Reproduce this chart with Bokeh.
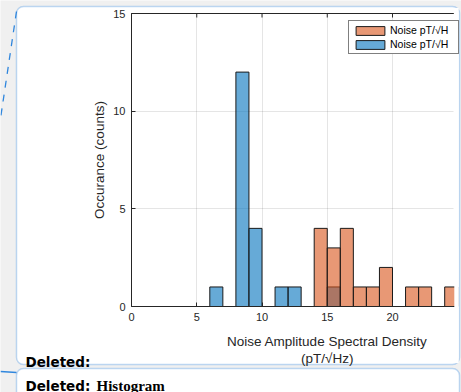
from bokeh.plotting import figure
from bokeh.models import (FixedTicker, Legend, LegendItem, Label,
                          BoxAnnotation, Arrow, Range1d)
from bokeh.embed import file_html
from bokeh.resources import INLINE

# ---- data ----
blue_bin_left = [6, 8, 9, 11, 12, 15]
blue_counts = [1, 12, 4, 1, 1, 1]
orange_bin_left = [14, 15, 16, 17, 18, 19, 21, 22, 24]
orange_counts = [4, 3, 4, 1, 1, 2, 1, 1, 1]
bin_width = 1
x_ticks = [0, 5, 10, 15, 20]
y_ticks = [0, 5, 10, 15]
legend_labels = ["Noise pT/\u221aH", "Noise pT/\u221aH"]
x_label_lines = ["Noise Amplitude Spectral Density", "(pT/\u221aHz)"]
y_label = "Occurance (counts)"
x_visible_max = 24.7   # the picture is cropped here
y_max = 15

# ---- layout (pixels) ----
W, H = 461, 392
X0_PX, Y0_PX, YTOP_PX = 131.0, 306.0, 13.0
PX_PER_X = 13.05
PX_PER_Y = (Y0_PX - YTOP_PX) / y_max

FONT = "Liberation Sans"
INK = "#262626"
DOC_BLUE = "#2f86dd"
DOC_GRAY = "#f0f0f0"

p = figure(width=W, height=H,
           x_range=Range1d(-X0_PX / PX_PER_X, (W - X0_PX) / PX_PER_X),
           y_range=Range1d(-(H - Y0_PX) / PX_PER_Y, Y0_PX / PX_PER_Y),
           output_backend="svg", toolbar_location=None,
           background_fill_color=DOC_GRAY, border_fill_color=DOC_GRAY,
           outline_line_color=None)
p.min_border = 0

# ---- document decorations (comment balloons) ----
canvas = dict(left_units="canvas", right_units="canvas",
              top_units="canvas", bottom_units="canvas")
p.add_layout(BoxAnnotation(left=16, right=459, top=6, bottom=364, **canvas,
                           fill_color="white", fill_alpha=1.0,
                           line_color=DOC_BLUE, line_width=1.5,
                           border_radius=7, level="image"))
p.add_layout(BoxAnnotation(left=16, right=459, top=368, bottom=404, **canvas,
                           fill_color="white", fill_alpha=1.0,
                           line_color=DOC_BLUE, line_width=1.5,
                           border_radius=7, level="image"))
p.add_layout(Arrow(end=None, x_start=16, y_start=11, x_end=0, y_end=118,
                   start_units="canvas", end_units="canvas",
                   line_color=DOC_BLUE, line_width=1.3, line_dash="7 7"))
p.add_layout(Arrow(end=None, x_start=0, y_start=371, x_end=16, y_end=372,
                   start_units="canvas", end_units="canvas",
                   line_color=DOC_BLUE, line_width=1.3))

# ---- histogram bars ----
blue_r = p.quad(left=blue_bin_left, right=[l + bin_width for l in blue_bin_left],
                bottom=0, top=blue_counts, fill_color="#0072BD", fill_alpha=0.6,
                line_color="#1a1a1a", line_width=1)
orange_r = p.quad(left=orange_bin_left, right=[l + bin_width for l in orange_bin_left],
                  bottom=0, top=orange_counts, fill_color="#D95319", fill_alpha=0.6,
                  line_color="#1a1a1a", line_width=1)

# ---- axes drawn at fixed data locations ----
xa, ya = p.xaxis[0], p.yaxis[0]
for ax in (xa, ya):
    ax.major_tick_in = 4
    ax.major_tick_out = 0
    ax.minor_tick_line_color = None
    ax.axis_line_color = INK
    ax.major_tick_line_color = INK
    ax.major_label_text_color = INK
    ax.major_label_text_font = FONT
    ax.major_label_text_font_size = "11px"
    ax.axis_label_text_font = FONT
    ax.axis_label_text_font_size = "13.5px"
    ax.axis_label_text_font_style = "normal"
    ax.axis_label_text_color = INK
xa.fixed_location = 0
xa.bounds = (0, x_visible_max)
xa.ticker = FixedTicker(ticks=x_ticks)
xa.major_label_standoff = 6
ya.fixed_location = 0
ya.bounds = (0, y_max)
ya.ticker = FixedTicker(ticks=y_ticks)
ya.major_label_standoff = 6
ya.axis_label = y_label
ya.axis_label_standoff = 3

# top frame line with inward ticks
tick_len = 4 / PX_PER_Y
p.segment(x0=[0], y0=[y_max], x1=[x_visible_max], y1=[y_max], line_color=INK, line_width=1)
p.segment(x0=x_ticks, y0=[y_max] * len(x_ticks), x1=x_ticks,
          y1=[y_max - tick_len] * len(x_ticks), line_color=INK, line_width=1)

# grid
p.xgrid.ticker = FixedTicker(ticks=x_ticks)
p.ygrid.ticker = FixedTicker(ticks=y_ticks)
p.xgrid.bounds = (0, x_visible_max)
p.ygrid.bounds = (0, y_max)
p.xgrid.cross_bounds = (0, y_max)
p.ygrid.cross_bounds = (0, x_visible_max)
p.grid.grid_line_color = INK
p.grid.grid_line_alpha = 0.12

# x axis label (centred on the un-cropped axis)
p.add_layout(Label(x=15, y=340.5, y_units="canvas", text=x_label_lines[0],
                   text_align="center", text_baseline="alphabetic",
                   text_font=FONT, text_font_size="13.5px", text_color=INK))
p.add_layout(Label(x=15, y=357.5, y_units="canvas", text=x_label_lines[1],
                   text_align="center", text_baseline="alphabetic",
                   text_font=FONT, text_font_size="13.5px", text_color=INK))

# ---- legend ----
legend = Legend(items=[LegendItem(label=legend_labels[0], renderers=[orange_r]),
                       LegendItem(label=legend_labels[1], renderers=[blue_r])],
                location=(348, H - 54), orientation="vertical",
                glyph_width=36, glyph_height=11, label_height=11, label_width=65,
                spacing=2, padding=3, margin=0, label_standoff=2,
                label_text_font=FONT, label_text_font_size="10.5px", label_text_color="black",
                border_line_color="black", border_line_width=1,
                background_fill_color="white", background_fill_alpha=1)
p.add_layout(legend)

# crop of the embedded picture at its right edge
p.add_layout(BoxAnnotation(left=453.8, right=458.2, top=7.5, bottom=362.5, **canvas,
                           fill_color="white", fill_alpha=1.0, line_color=None,
                           level="overlay"))

# ---- document texts ----
p.add_layout(Label(x=25, y=361, x_units="canvas", y_units="canvas", text="Deleted:",
                   text_font="DejaVu Sans", text_font_style="bold", text_font_size="13.5px",
                   text_color="black", text_baseline="alphabetic"))
p.add_layout(Label(x=25, y=385, x_units="canvas", y_units="canvas", text="Deleted:",
                   text_font="DejaVu Sans", text_font_style="bold", text_font_size="13.5px",
                   text_color="black", text_baseline="alphabetic"))
p.add_layout(Label(x=96, y=385, x_units="canvas", y_units="canvas", text="Histogram",
                   text_font="Liberation Serif", text_font_style="bold", text_font_size="15px",
                   text_color="black", text_baseline="alphabetic"))

open("out.html", "w").write(file_html(p, INLINE))
